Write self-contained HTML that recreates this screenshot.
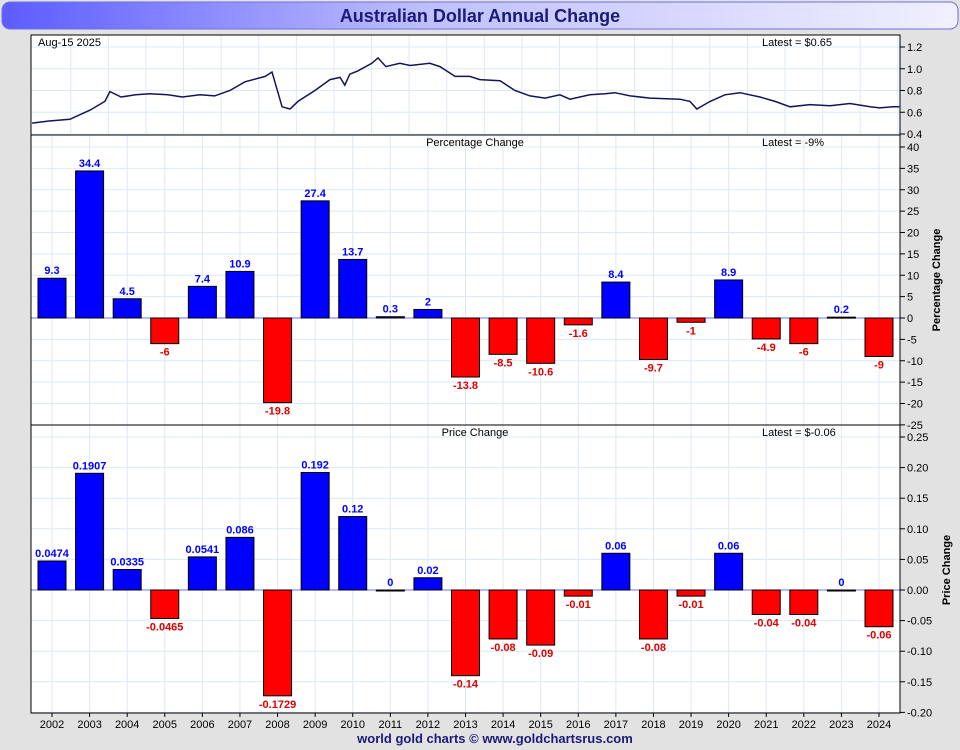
<!DOCTYPE html>
<html><head><meta charset="utf-8">
<style>
html,body{margin:0;padding:0;background:#e2e2e2;}
svg{display:block;font-family:"Liberation Sans",sans-serif;}
</style></head>
<body>
<svg id="chart" width="960" height="750" viewBox="0 0 960 750">
<defs>
<linearGradient id="tg" x1="0" x2="1" y1="0" y2="0">
<stop offset="0" stop-color="#5c5cff"/><stop offset="0.45" stop-color="#c0c0ff"/><stop offset="1" stop-color="#f0f0ff"/>
</linearGradient>
</defs>
<rect x="0" y="0" width="960" height="750" fill="#e2e2e2"/>
<rect x="2" y="2" width="956" height="27" rx="8" fill="url(#tg)" stroke="#7070e0"/>
<text x="480" y="22" text-anchor="middle" font-size="18" font-weight="bold" fill="#1a1a7a">Australian Dollar Annual Change</text>
<rect x="31" y="35" width="869" height="678" fill="#fff"/>
<g id="g"></g>
<text x="495" y="743" text-anchor="middle" font-size="13" font-weight="bold" fill="#1a1a7a">world gold charts © www.goldchartsrus.com</text>
</svg>
<script>
const years=["2002","2003","2004","2005","2006","2007","2008","2009","2010","2011","2012","2013","2014","2015","2016","2017","2018","2019","2020","2021","2022","2023","2024"];
const pctValues=[9.3,34.4,4.5,-6,7.4,10.9,-19.8,27.4,13.7,0.3,2,-13.8,-8.5,-10.6,-1.6,8.4,-9.7,-1,8.9,-4.9,-6,0.2,-9];
const priceValues=[0.0474,0.1907,0.0335,-0.0465,0.0541,0.086,-0.1729,0.192,0.12,0,0.02,-0.14,-0.08,-0.09,-0.01,0.06,-0.08,-0.01,0.06,-0.04,-0.04,0,-0.06];
const priceLabels=["0.0474","0.1907","0.0335","-0.0465","0.0541","0.086","-0.1729","0.192","0.12","0","0.02","-0.14","-0.08","-0.09","-0.01","0.06","-0.08","-0.01","0.06","-0.04","-0.04","0","-0.06"];
const lineDates=[2001.53,2002.0,2002.58,2003.14,2003.55,2003.69,2004.0,2004.4,2004.8,2005.3,2005.7,2006.19,2006.6,2007.02,2007.44,2008.0,2008.19,2008.47,2008.69,2008.91,2009.38,2009.8,2010.08,2010.21,2010.35,2010.57,2010.96,2011.13,2011.35,2011.74,2012.02,2012.57,2012.85,2013.27,2013.68,2013.96,2014.52,2014.93,2015.35,2015.77,2016.18,2016.46,2017.01,2017.43,2017.71,2018.13,2018.68,2019.51,2019.79,2019.98,2020.35,2020.76,2021.18,2021.73,2022.15,2022.57,2023.12,2023.68,2024.23,2024.79,2025.06,2025.42,2025.6];
const lineValues=[0.50,0.52,0.535,0.62,0.70,0.79,0.74,0.76,0.77,0.76,0.74,0.76,0.75,0.80,0.88,0.93,0.97,0.65,0.63,0.70,0.80,0.90,0.92,0.85,0.95,0.98,1.05,1.10,1.02,1.05,1.03,1.05,1.02,0.93,0.93,0.90,0.89,0.80,0.75,0.73,0.76,0.72,0.76,0.77,0.78,0.75,0.73,0.72,0.70,0.63,0.70,0.76,0.78,0.74,0.70,0.65,0.67,0.66,0.68,0.65,0.64,0.65,0.65];
const topTicks=[0.4,0.6,0.8,1.0,1.2];
const pctTicks=[-25,-20,-15,-10,-5,0,5,10,15,20,25,30,35,40];
const priceTicks=[-0.2,-0.15,-0.1,-0.05,0,0.05,0.1,0.15,0.2,0.25];

const NS="http://www.w3.org/2000/svg";
const G=document.getElementById('g');
function mk(tag,attrs,parent){const e=document.createElementNS(NS,tag);for(const k in attrs)e.setAttribute(k,attrs[k]);(parent||G).appendChild(e);return e;}
const L=31,R=900;
const xBand=i=>52+i*(879-52)/(years.length-1);
const yTop=v=>134-(v-0.4)*(87/0.8);
const yPct=v=>318-v*(171/40);
const yPrice=v=>590-v*(153/0.25);
const xLine=t=>L+(t-2001.5)*(R-L)/(2025.62-2001.5);
const GRID="#dce9f5";

// vertical grids
for(let i=0;i<years.length;i++){
  const x=xBand(i);
  let e=mk('line',{x1:x,x2:x,y1:135,y2:713,stroke:GRID});
  
  const x2=x+18.8;
  e=mk('line',{x1:x2,x2:x2,y1:35,y2:135,stroke:GRID});
  
}
function hgrid(ticks,yf,fmt,name){
  ticks.forEach(t=>{
    const y=yf(t);
    let e=mk('line',{x1:L,x2:R,y1:y,y2:y,stroke:GRID});
    
    e=mk('line',{x1:R,x2:R+5,y1:y,y2:y,stroke:'#000'});
    
    e=mk('text',{x:R+7,y:y+4,'font-size':11,fill:'#000'});e.textContent=fmt(t);
    
  });
}
hgrid(topTicks,yTop,t=>t.toFixed(1),'price-line-axis');
hgrid(pctTicks,yPct,t=>String(t),'percentage-axis');
hgrid(priceTicks,yPrice,t=>t.toFixed(2),'price-change-axis');

// top line
let d=lineDates.map((t,i)=>(i?'L':'M')+xLine(t).toFixed(1)+' '+yTop(lineValues[i]).toFixed(1)).join(' ');
let e=mk('path',{d:d,fill:'none',stroke:'#14145e','stroke-width':1.5});


// bars
function bars(vals,yf,labels,name){
  const z=yf(0);
  e=mk('line',{x1:L,x2:R,y1:z,y2:z,stroke:'#7070ff'});
  
  vals.forEach((v,i)=>{
    const x=xBand(i)-14,y=yf(v);
    const top=Math.min(y,z),h=Math.max(Math.abs(y-z),1);
    const b=mk('rect',{x:x,y:top,width:28,height:h,fill:v>=0?'#0000ff':'#ff0000',stroke:'#000','stroke-width':1});
    
    
    const t=mk('text',{x:xBand(i),y:v>=0?top-4:top+h+12,'text-anchor':'middle','font-size':11,'font-weight':'bold',fill:v>=0?'#0000ff':'#e00000'});
    t.textContent=labels[i];
    
    
  });
}
bars(pctValues,yPct,pctValues.map(String),'percentage');
bars(priceValues,yPrice,priceLabels,'price-change');

// x labels
years.forEach((yr,i)=>{
  const x=xBand(i);
  let t=mk('line',{x1:x,x2:x,y1:713,y2:717,stroke:'#000'});
  
  t=mk('text',{x:x,y:728,'text-anchor':'middle','font-size':11,fill:'#000'});t.textContent=yr;
  
});

// panel borders
[[35,100],[135,290],[425,288]].forEach((p,i)=>{
  const r=mk('rect',{x:L,y:p[0],width:R-L,height:p[1],fill:'none',stroke:'#000','stroke-width':1});
  
});

function txt(x,y,s,name,extra){const t=mk('text',Object.assign({x:x,y:y,'font-size':11,fill:'#000'},extra||{}));t.textContent=s;return t;}
txt(38,46,'Aug-15  2025','date-label');
txt(762,46,'Latest = $0.65','latest-price-label');
txt(475,146,'Percentage Change','percentage-panel-title',{'text-anchor':'middle'});
txt(762,146,'Latest = -9%','latest-percentage-label');
txt(475,436,'Price Change','price-panel-title',{'text-anchor':'middle'});
txt(762,436,'Latest = $-0.06','latest-price-change-label');
txt(940,280,'Percentage Change','percentage-axis-title',{'text-anchor':'middle','font-weight':'bold','transform':'rotate(-90 940 280)'});
txt(950,570,'Price Change','price-axis-title',{'text-anchor':'middle','font-weight':'bold','transform':'rotate(-90 950 570)'});
</script>
</body></html>
